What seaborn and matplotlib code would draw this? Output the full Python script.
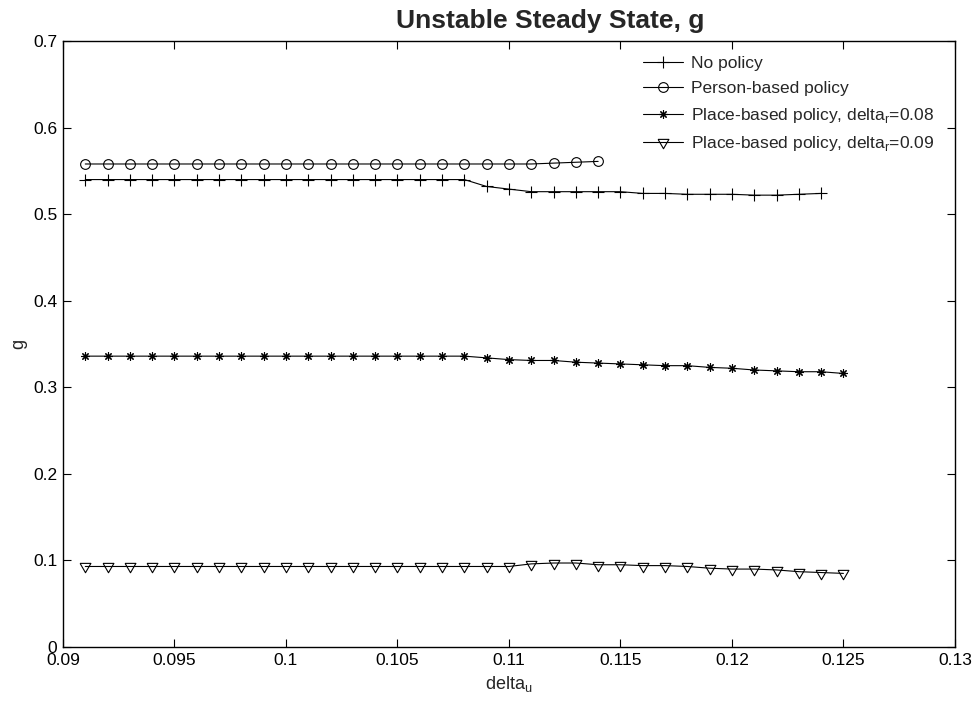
import matplotlib
matplotlib.use('Agg')
import matplotlib.pyplot as plt
import seaborn as sns
import numpy as np

# delta_u 값 (x축)
delta_u = [0.091, 0.092, 0.093, 0.094, 0.095, 0.096, 0.097, 0.098, 0.099, 0.100,
           0.101, 0.102, 0.103, 0.104, 0.105, 0.106, 0.107, 0.108, 0.109, 0.110,
           0.111, 0.112, 0.113, 0.114, 0.115, 0.116, 0.117, 0.118, 0.119, 0.120,
           0.121, 0.122, 0.123, 0.124, 0.125]

# 각 정책별 g 값
no_policy = [0.540] * 18 + [0.532, 0.529, 0.526, 0.526, 0.526, 0.526, 0.526, 0.524,
                            0.524, 0.523, 0.523, 0.523, 0.522, 0.522, 0.523, 0.524]
person_based = [0.558] * 21 + [0.559, 0.560, 0.561]
place_008 = [0.336] * 18 + [0.334, 0.332, 0.331, 0.331, 0.329, 0.328, 0.327, 0.326, 0.325,
                            0.325, 0.323, 0.322, 0.320, 0.319, 0.318, 0.318, 0.316]
place_009 = [0.093] * 20 + [0.096, 0.097, 0.097, 0.095, 0.095, 0.094, 0.094, 0.093, 0.091,
                            0.090, 0.090, 0.089, 0.087, 0.086, 0.085]

labels = ['No policy', 'Person-based policy',
          r'Place-based policy, delta$_{\mathregular{r}}$=0.08',
          r'Place-based policy, delta$_{\mathregular{r}}$=0.09']

sns.set_style('ticks')
plt.rcParams['font.family'] = ['Liberation Sans', 'DejaVu Sans']
plt.rcParams['mathtext.fontset'] = 'custom'
plt.rcParams['mathtext.rm'] = 'Liberation Sans'

fig = plt.figure(figsize=(9.78, 7.07), dpi=100)
ax = fig.add_axes([0.0644, 0.0849, 0.912, 0.857])

# MATLAB 스타일 마커
tri = [(-1, 0.577), (1, 0.577), (0, -1.155), (-1, 0.577)]
asterisk = (8, 2, 0)

lw = 0.8
common = dict(ax=ax, color='k', lw=lw, markeredgecolor='k', markeredgewidth=0.8)
sns.lineplot(x=delta_u[:len(no_policy)], y=no_policy, marker='+', markersize=9,
             label=labels[0], **common)
sns.lineplot(x=delta_u[:len(person_based)], y=person_based, marker='o', markersize=7,
             markerfacecolor='none', label=labels[1], **common)
sns.lineplot(x=delta_u, y=place_008, marker=asterisk, markersize=6,
             label=labels[2], **common)
sns.lineplot(x=delta_u, y=place_009, marker=tri, markersize=9,
             markerfacecolor='none', label=labels[3], **common)

ax.set_xlim(0.09, 0.13)
ax.set_ylim(0, 0.7)
xt = [0.09, 0.095, 0.1, 0.105, 0.11, 0.115, 0.12, 0.125, 0.13]
yt = [0, 0.1, 0.2, 0.3, 0.4, 0.5, 0.6, 0.7]
ax.set_xticks(xt)
ax.set_xticklabels(['%g' % v for v in xt])
ax.set_yticks(yt)
ax.set_yticklabels(['%g' % v for v in yt])
ax.tick_params(direction='in', top=True, right=True, length=6, width=0.8,
               labelsize=12.5, colors='k', pad=4)
for s in ax.spines.values():
    s.set_visible(True)
    s.set_linewidth(1.0)
    s.set_color('k')

ax.set_xlabel(r'delta$_{\mathregular{u}}$', fontsize=13, labelpad=5)
ax.set_ylabel('g', fontsize=13, labelpad=4)
ax.text(0.546, 1.021, 'Unstable Steady State, g', transform=ax.transAxes,
        ha='center', va='baseline', fontsize=19, fontweight='bold')

leg = ax.legend(loc='upper left', bbox_to_anchor=(0.637, 0.995), frameon=False,
                fontsize=12.5, handlelength=2.3, handletextpad=0.45,
                labelspacing=0.55, borderaxespad=0.3)

fig.savefig('out.png', dpi=100)
